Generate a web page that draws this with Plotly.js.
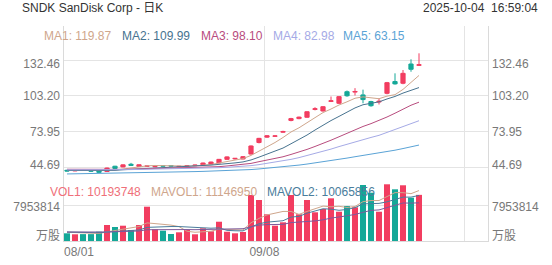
<!DOCTYPE html>
<html><head><meta charset="utf-8">
<script src="https://cdn.plot.ly/plotly-3.0.1.min.js"></script>
<style>html,body{margin:0;padding:0;background:#fff;}#chart{width:552px;height:265px;}</style>
</head><body><div id="chart"></div>
<script>
// ---- data ----
const dates = ['08/01','08/04','08/05','08/06','08/07','08/08','08/11','08/12','08/13','08/14','08/15',
  '08/18','08/19','08/20','08/21','08/22','08/25','08/26','08/27','08/28','08/29',
  '09/02','09/03','09/04','09/05','09/08','09/09','09/10','09/11','09/12',
  '09/15','09/16','09/17','09/18','09/19','09/22','09/23','09/24','09/25','09/26',
  '09/29','09/30','10/01','10/02','10/03'];
const open  = [42.6,42.2,42.5,42.4,42.2,41.6,45.9,45.3,47.5,45.7,45.8,45.4,46.3,46.4,45.6,45.9,46.3,47.1,47.6,48.6,51.5,51.9,51.8,55.8,65.2,69.6,70.3,73.6,83.2,84.7,85.8,92.2,90.9,98.7,97.2,106.6,106.3,104.0,98.6,98.2,105.3,114.9,113.5,129.2,128.1];
const high  = [43.0,42.7,42.9,42.6,42.4,44.8,46.2,47.3,48.6,47.3,46.4,46.0,46.5,46.6,46.1,46.8,47.0,48.8,49.6,51.8,53.9,52.6,54.0,62.8,69.0,71.2,71.0,74.8,85.3,86.3,90.6,94.0,94.8,102.7,103.0,107.6,109.5,108.3,99.2,101.3,114.6,121.6,124.3,133.0,137.9];
const low   = [41.8,41.9,42.1,41.6,40.6,41.4,43.8,45.1,46.3,45.5,45.3,45.2,45.7,45.8,45.3,45.6,46.0,46.9,47.3,48.3,51.2,51.3,51.5,55.5,64.5,69.0,69.8,73.1,82.5,84.2,85.4,91.4,90.5,98.2,96.6,102.5,103.5,97.2,94.4,96.2,104.5,112.4,112.7,122.9,127.6];
const close = [42.0,42.3,42.4,41.9,40.9,44.4,44.1,47.0,46.6,47.1,46.1,45.7,46.0,46.1,45.8,46.3,46.8,48.5,49.3,51.5,53.5,52.3,53.7,62.4,68.6,70.7,70.6,74.2,84.7,85.9,90.3,92.7,94.4,99.2,102.6,103.3,106.8,100.2,95.2,98.8,114.0,113.0,121.6,124.9,128.6];
const ma1 = [42.4,42.36,42.34,42.2,41.9,42.4,42.7,43.7,44.6,45.8,46.2,46.5,46.3,46.2,45.9,46.0,46.2,46.7,47.3,48.5,49.9,51.0,52.1,54.7,58.1,61.5,65.2,69.3,73.8,77.2,81.1,85.6,89.6,92.5,95.8,98.4,101.3,102.4,101.6,100.9,103.0,104.2,108.5,114.5,119.87];
const ma2 = [42.45,42.43,42.42,42.36,42.2,42.4,42.55,43.0,43.4,43.87,44.3,44.6,45.0,45.4,45.9,46.1,46.35,46.5,46.8,47.2,47.95,48.6,49.4,51.0,53.3,55.7,58.1,60.7,64.2,67.7,71.3,75.4,79.5,83.1,86.5,89.8,93.4,96.0,97.1,98.35,100.7,102.75,105.5,108.0,109.99];
const ma3 = [43.43,43.37,43.31,43.23,43.1,43.15,43.18,43.35,43.5,43.69,43.82,43.93,44.05,44.18,44.3,44.44,44.6,44.85,45.14,45.54,46.1,46.6,47.2,48.2,49.6,50.9,52.2,53.6,55.5,57.4,59.6,62.0,64.4,67.1,69.9,72.8,75.8,78.3,80.6,83.0,86.0,89.1,92.5,95.6,98.10];
const ma4 = [42.97,42.94,42.92,42.89,42.82,42.86,42.9,43.03,43.15,43.29,43.39,43.48,43.58,43.69,43.78,43.89,44.02,44.2,44.41,44.69,45.04,45.35,45.71,46.36,47.21,48.13,49.05,50.09,51.48,52.91,54.52,56.2,57.94,59.85,61.9,63.87,65.96,67.73,69.35,71.07,73.34,75.58,78.1,80.6,82.98];
const ma5 = [39.6,39.69,39.77,39.85,39.91,40.03,40.14,40.29,40.44,40.6,40.73,40.86,40.99,41.12,41.25,41.38,41.52,41.69,41.86,42.08,42.32,42.55,42.79,43.18,43.67,44.2,44.72,45.3,46.05,46.82,47.66,48.55,49.45,50.44,51.48,52.53,53.64,54.64,55.55,56.52,57.75,58.95,60.3,61.7,63.15];
const vol = [1700000,1480000,1520000,1520000,2050000,3540000,3090000,3380000,2430000,3540000,7580000,2580000,2280000,1550000,1920000,2430000,1480000,2810000,2140000,4260000,2050000,1700000,1990000,10160000,9060000,5900000,3380000,4130000,10160000,5900000,9060000,6340000,7070000,9430000,6470000,7730000,7450000,12370000,10670000,6470000,12530000,11420000,12310000,9570000,10193748];
const mavol1 = [1940000,1840000,1740000,1640000,1650000,2020000,2340000,2720000,2900000,3200000,4000000,3900000,3680000,3510000,3180000,2150000,1930000,2040000,2160000,2620000,2550000,2590000,2430000,4030000,4990000,5760000,6100000,6530000,6530000,5890000,6530000,7120000,7710000,7560000,7670000,7410000,7630000,8690000,8940000,8940000,9900000,10690000,10680000,10460000,11146950];
const mavol2 = [1970000,1920000,1870000,1820000,1830000,1980000,2090000,2230000,2270000,2430000,3010000,3120000,3200000,3200000,3190000,3080000,2920000,2860000,2830000,2900000,2350000,2260000,2230000,3090000,3810000,4160000,4350000,4480000,5280000,5440000,6140000,6610000,7120000,7040000,6780000,6970000,7370000,8200000,8250000,8310000,8650000,9160000,9690000,9700000,10065856];
const mavol3 = [1990000,1960000,1940000,1910000,1910000,1990000,2050000,2110000,2140000,2210000,2490000,2520000,2530000,2510000,2510000,2530000,2500000,2540000,2550000,2660000,2680000,2690000,2720000,3150000,3500000,3620000,3630000,3670000,4060000,4170000,4250000,4440000,4670000,5070000,5300000,5560000,5860000,6340000,6760000,6870000,7400000,7880000,8400000,8370000,8430000];
const priceTicks = [44.69, 73.95, 103.20, 132.46];
const volTick = 7953814;
const xTickLabels = ['08/01', '09/08'];
const titleText = 'SNDK SanDisk Corp - 日K';
const stampText = '2025-10-04\u00a0\u00a016:59:04';

// ---- styling ----
const UP = '#f23d60', DOWN = '#14a898';
const C_MA = ['#cfa68c', '#47738f', '#b84c7e', '#a5aae6', '#5aa3d6'];
const C_VOL = '#ef6f79', C_MV = ['#cfa68c', '#4a7d9c', '#7e5a9b'];
const GRID = '#e4e4e4', LINE = '#dadada', TXT = '#787878';
const FONT = 'Liberation Sans, Arial, Noto Sans CJK SC, sans-serif';
const L = 64, R = 488, T = 26, B = 241;
const px = v => (v - L) / (R - L), py = v => (B - v) / (B - T);
const pxPerUnit = 1.2271;                 // price pixels per unit
const volPerPx = volTick / 36;            // volume per pixel

const x = dates.map((d, i) => i);
const half = 0.375;
const gridX = [0, 25, 50].map(i => i - half);
const labelX = [dates.indexOf('08/01') + 1.5, dates.indexOf('09/08') - 0.32];
const xr = [-half, 52.625];
const priceDomBot = 183, volDomTop = 183;
const yr = [132.46 - (priceDomBot - 60) / pxPerUnit, 132.46 + (60 - T) / pxPerUnit];
const vr = [0, (B - volDomTop) * volPerPx];
const priceLabelPos = [priceTicks[0] + 2.2, priceTicks[1], priceTicks[2], priceTicks[3] - 3.2];
const priceLabelText = priceTicks.map(v => v.toFixed(2));
const volLabelPos = [5 * volPerPx, volTick - 2 * volPerPx];
const volLabelText = ['万股', String(volTick)];

const last = a => a[a.length - 1];
const barColors = close.map((c, i) => c >= open[i] ? UP : DOWN);

const traces = [
  {type:'candlestick', x, open, high, low, close, xaxis:'x', yaxis:'y',
   increasing:{line:{color:UP, width:1}, fillcolor:UP},
   decreasing:{line:{color:DOWN, width:1}, fillcolor:DOWN},
   whiskerwidth:0, hoverinfo:'skip', showlegend:false},
  ...[ma1, ma2, ma3, ma4, ma5].map((m, k) => ({type:'scatter', mode:'lines', x, y:m, xaxis:'x', yaxis:'y',
     line:{color:C_MA[k], width:1}, hoverinfo:'skip', showlegend:false})),
  {type:'bar', x, y:vol, xaxis:'x', yaxis:'y3', marker:{color:barColors, line:{width:0}}, hoverinfo:'skip', showlegend:false},
  ...[mavol1, mavol2, mavol3].map((m, k) => ({type:'scatter', mode:'lines', x, y:m, xaxis:'x', yaxis:'y3',
     line:{color:C_MV[k], width:1}, hoverinfo:'skip', showlegend:false})),
  {type:'scatter', x:[], y:[], xaxis:'x2', yaxis:'y3', showlegend:false},
  {type:'scatter', x:[], y:[], xaxis:'x', yaxis:'y2', showlegend:false},
  {type:'scatter', x:[], y:[], xaxis:'x', yaxis:'y5', showlegend:false},
  {type:'scatter', x:[], y:[], xaxis:'x', yaxis:'y4', showlegend:false},
  {type:'scatter', x:[], y:[], xaxis:'x', yaxis:'y6', showlegend:false}
];

const labAx = (over, side, range, tv, tt) => ({overlaying:over, side, anchor:'x', range, tickvals:tv, ticktext:tt,
  showgrid:false, zeroline:false, showline:false, ticks:'', ticklabelstandoff:3,
  tickfont:{family:FONT, size:12, color:TXT}, fixedrange:true});

const ann = (text, xp, yp, color, anchor) => ({text, x:px(xp), y:py(yp), xref:'paper', yref:'paper',
  xanchor:anchor || 'left', yanchor:'middle', showarrow:false, font:{family:FONT, size:12, color}});

const layout = {
  width:552, height:265, margin:{l:L, r:552 - R, t:T, b:265 - B, pad:0},
  paper_bgcolor:'#fff', plot_bgcolor:'rgba(0,0,0,0)', showlegend:false,
  font:{family:FONT, size:12, color:TXT}, boxgap:0.25, bargap:0.25,
  xaxis:{range:xr, anchor:'y3', tickvals:gridX, showticklabels:false, showgrid:true, gridcolor:GRID, gridwidth:1,
         zeroline:false, showline:true, linecolor:LINE, linewidth:1, ticks:'', rangeslider:{visible:false}, fixedrange:true},
  xaxis2:{overlaying:'x', anchor:'y3', side:'bottom', range:xr, tickvals:labelX, ticktext:xTickLabels,
          showgrid:false, zeroline:false, showline:false, ticks:'', ticklabelstandoff:2,
          tickfont:{family:FONT, size:12, color:TXT}, fixedrange:true},
  yaxis:{domain:[py(priceDomBot), 1], range:yr, tickvals:priceTicks, showticklabels:false, showgrid:true, gridcolor:GRID,
         zeroline:false, showline:true, mirror:true, linecolor:LINE, ticks:'', fixedrange:true},
  yaxis2:labAx('y', 'left', yr, priceLabelPos, priceLabelText),
  yaxis5:labAx('y', 'right', yr, priceLabelPos, priceLabelText),
  yaxis3:{domain:[0, py(volDomTop)], range:vr, tickvals:[volTick], showticklabels:false, showgrid:true, gridcolor:GRID,
          zeroline:false, showline:true, mirror:true, linecolor:LINE, ticks:'', fixedrange:true},
  yaxis4:labAx('y3', 'left', vr, volLabelPos, volLabelText),
  yaxis6:labAx('y3', 'right', vr, volLabelPos, volLabelText),
  annotations:[
    ann(titleText, 20, 8, '#333'),
    ann(stampText, 540, 8, '#333', 'right'),
    ann('MA1: ' + last(ma1).toFixed(2), 42, 36, C_MA[0]),
    ann('MA2: ' + last(ma2).toFixed(2), 120, 36, C_MA[1]),
    ann('MA3: ' + last(ma3).toFixed(2), 199, 36, C_MA[2]),
    ann('MA4: ' + last(ma4).toFixed(2), 271, 36, C_MA[3]),
    ann('MA5: ' + last(ma5).toFixed(2), 341, 36, C_MA[4]),
    ann('VOL1: ' + last(vol), 48, 192, C_VOL),
    ann('MAVOL1: ' + last(mavol1), 149, 192, C_MV[0]),
    ann('MAVOL2: ' + last(mavol2), 265, 192, C_MV[1])
  ]
};

Plotly.newPlot('chart', traces, layout, {staticPlot:true, displayModeBar:false});
</script>
</body></html>
